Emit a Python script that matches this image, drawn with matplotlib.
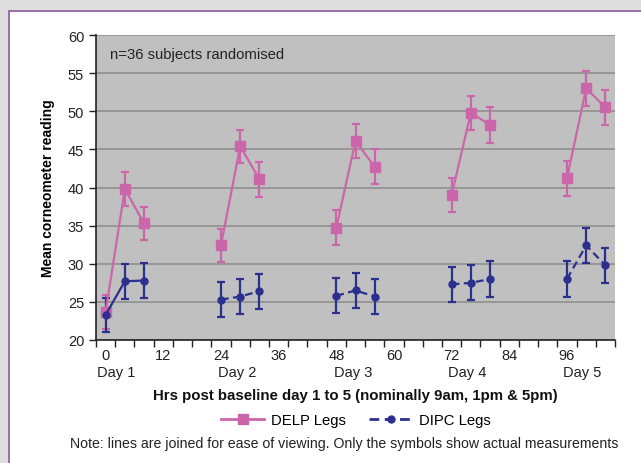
import matplotlib.pyplot as plt
from matplotlib.patches import Rectangle
from matplotlib.lines import Line2D

plt.rcParams['font.family'] = ['Liberation Sans', 'DejaVu Sans']

# measurement times (hours post baseline), three per day
hours = [[0, 4, 8], [24, 28, 32], [48, 52, 56], [72, 76, 80], [96, 100, 104]]

delp_mean = [[23.7, 39.8, 35.3], [32.4, 45.4, 41.1], [34.7, 46.1, 42.7],
             [39.0, 49.8, 48.2], [41.2, 53.0, 50.5]]
delp_err = [[2.2, 2.2, 2.2], [2.2, 2.2, 2.3], [2.3, 2.2, 2.3],
            [2.2, 2.2, 2.3], [2.3, 2.3, 2.3]]

dipc_mean = [[23.3, 27.7, 27.8], [25.3, 25.7, 26.4], [25.8, 26.5, 25.7],
             [27.3, 27.5, 28.0], [28.0, 32.4, 29.8]]
dipc_err = [[2.2, 2.3, 2.3], [2.3, 2.3, 2.3], [2.3, 2.3, 2.3],
            [2.3, 2.3, 2.3], [2.3, 2.3, 2.3]]

tick_pos = [0, 12, 24, 36, 48, 60, 72, 84, 96]
day_labels = ["Day 1", "Day 2", "Day 3", "Day 4", "Day 5"]
day_label_x = [2.2, 27.3, 51.5, 75.3, 99.2]

pink = '#cc66aa'
navy = '#2b2f8e'
dash = (0, (3.5, 2))

fig = plt.figure(figsize=(6.41, 4.64), dpi=100)
fig.patch.set_facecolor('#dedede')
fig.patches.append(Rectangle((9/641, -0.01), 1, 1 - 12/464 + 0.01, transform=fig.transFigure,
                             facecolor='white', edgecolor='#8e56a0', linewidth=1.2, zorder=-5))

ax = fig.add_axes([96/641, 1 - 341/464, (615 - 96)/641, (341 - 36)/464])
ax.set_facecolor('#c0c0c0')

for i in range(5):
    ax.errorbar(hours[i], delp_mean[i], yerr=delp_err[i], color=pink, marker='s', markersize=6.5,
                linewidth=1.6, elinewidth=1.6, capsize=3, capthick=1.6, zorder=3)
    ls = '-' if i == 0 else dash
    ax.errorbar(hours[i], dipc_mean[i], yerr=dipc_err[i], color=navy, marker='o', markersize=5,
                linewidth=1.6, elinewidth=1.6, capsize=3, capthick=1.6, zorder=3, linestyle=ls)

ax.set_xlim(-2, 106)
ax.set_ylim(20, 60)
ax.set_yticks(range(20, 61, 5))
ax.set_xticks(tick_pos)
ax.set_xticklabels([str(t) for t in tick_pos], fontsize=10.5, color='#222222')
ax.set_xticks(range(-2, 107, 4), minor=True)
ax.tick_params(axis='x', which='major', length=0, pad=6)
ax.tick_params(axis='x', which='minor', length=5, width=1, color='#222222', direction='out')
ax.tick_params(axis='y', labelsize=10.5, length=5, width=1, color='#222222', labelcolor='#222222')
ax.yaxis.grid(True, color='#8f8f8f', linewidth=1.2)
ax.set_axisbelow(True)
for s in ['top', 'right']:
    ax.spines[s].set_visible(False)
for s in ['left', 'bottom']:
    ax.spines[s].set_color('#222222')
    ax.spines[s].set_linewidth(1.2)

for lab, xd in zip(day_labels, day_label_x):
    ax.text(xd, -0.105, lab, transform=ax.get_xaxis_transform(), ha='center', va='center',
            fontsize=10.5, color='#222222')

ax.text(0.9, 57.5, 'n=36 subjects randomised', fontsize=10.7, color='#222222', va='center')

ax.set_ylabel('Mean corneometer reading', fontsize=10, fontweight='bold', labelpad=9)
fig.text(355/641, 1 - 396/464, 'Hrs post baseline day 1 to 5 (nominally 9am, 1pm & 5pm)',
         ha='center', va='center', fontsize=10.8, fontweight='bold', color='#111111')

handles = [Line2D([], [], color=pink, marker='s', markersize=6.5, linewidth=2),
           Line2D([], [], color=navy, marker='o', markersize=5, linewidth=2, linestyle=dash)]
fig.legend(handles, ['DELP Legs', 'DIPC Legs'], loc='center', bbox_to_anchor=(356/641, 1 - 421/464),
           ncol=2, frameon=False, fontsize=10.7, handlelength=2.9, columnspacing=1.6, handletextpad=0.45)

fig.text(344/641, 1 - 444/464,
         'Note: lines are joined for ease of viewing. Only the symbols show actual measurements',
         ha='center', va='center', fontsize=10.2, color='#222222')

fig.savefig('out.png', dpi=100, facecolor=fig.get_facecolor())
